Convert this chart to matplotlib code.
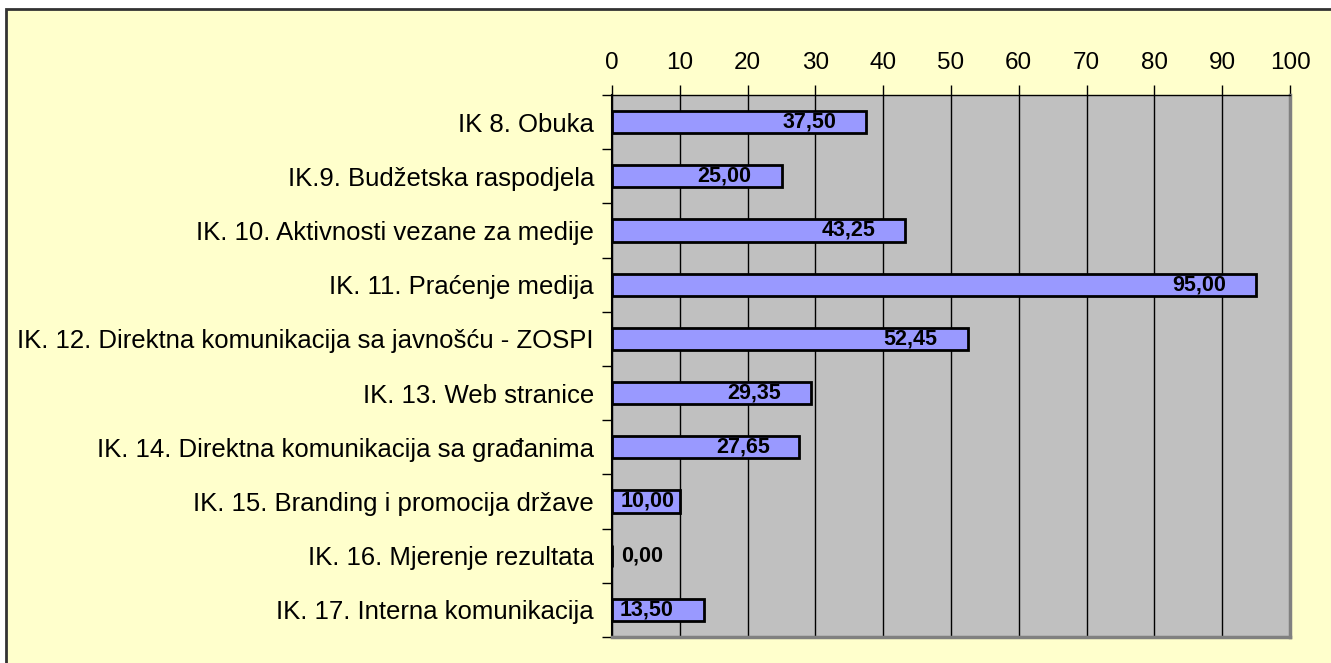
import matplotlib.pyplot as plt
from matplotlib.patches import Rectangle

plt.rcParams['font.family'] = ['Liberation Sans', 'DejaVu Sans']

categories = ['IK 8. Obuka',
              'IK.9. Budžetska raspodjela',
              'IK. 10. Aktivnosti vezane za medije',
              'IK. 11. Praćenje medija',
              'IK. 12. Direktna komunikacija sa javnošću - ZOSPI',
              'IK. 13. Web stranice',
              'IK. 14. Direktna komunikacija sa građanima',
              'IK. 15. Branding i promocija države',
              'IK. 16. Mjerenje rezultata',
              'IK. 17. Interna komunikacija']
values = [37.50, 25.00, 43.25, 95.00, 52.45, 29.35, 27.65, 10.00, 0.00, 13.50]
xticks = [0, 10, 20, 30, 40, 50, 60, 70, 80, 90, 100]

fig = plt.figure(figsize=(13.31, 6.63), dpi=100)
fig.patch.set_facecolor('white')

# chart frame
fig.patches.append(Rectangle((6 / 1331, -0.05), 1.1, 1 - 9 / 663 + 0.05,
                             transform=fig.transFigure, facecolor='#FFFFCC',
                             edgecolor='#333333', linewidth=2, zorder=-5))

ax = fig.add_axes([612 / 1331, 1 - 637 / 663, (1290 - 612) / 1331, (637 - 95) / 663])
ax.set_zorder(2)
ax.set_facecolor('#C0C0C0')

ypos = list(range(len(categories)))
ax.barh(ypos, values, height=0.41, color='#9999FF', edgecolor='black',
        linewidth=2, zorder=3)

for y, v in zip(ypos, values):
    txt = f'{v:.2f}'.replace('.', ',')
    if v - 4.4 - 7.6 > 1.3:
        ax.text(v - 4.4, y, txt, ha='right', va='center', fontsize=15.5,
                fontweight='bold', zorder=4)
    else:
        ax.text(1.3, y, txt, ha='left', va='center', fontsize=15.5,
                fontweight='bold', zorder=4)

ax.set_xlim(0, 100)
ax.set_ylim(len(categories) - 0.5, -0.5)
ax.set_xticks(xticks)
ax.xaxis.tick_top()
ax.tick_params(axis='x', length=7, width=1, labelsize=17.5, pad=8, color='black')
ax.set_yticks(ypos)
ax.set_yticklabels(categories)
ax.tick_params(axis='y', length=0, labelsize=18.5, pad=13)
ax.set_yticks([y + 0.5 for y in ypos[:-1]] + [-0.5, len(categories) - 0.5], minor=True)
ax.tick_params(axis='y', which='minor', length=7, width=1)

ax.grid(axis='x', color='black', linewidth=1, zorder=1)
ax.set_axisbelow(True)

ax.spines['left'].set_color('black')
ax.spines['left'].set_linewidth(1.5)
ax.spines['top'].set_color('black')
ax.spines['top'].set_linewidth(1)
ax.spines['right'].set_color('#808080')
ax.spines['right'].set_linewidth(2.5)
ax.spines['bottom'].set_color('#808080')
ax.spines['bottom'].set_linewidth(2.5)

fig.savefig('out.png', dpi=100, facecolor=fig.get_facecolor())
